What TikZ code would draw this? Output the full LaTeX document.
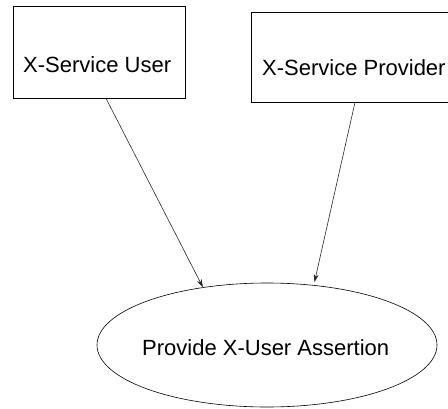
\documentclass[tikz,border=0pt]{standalone}
\usepackage{fontspec}
\setmainfont{Liberation Sans}
\usetikzlibrary{shapes.geometric,arrows.meta}
\begin{document}
\begin{tikzpicture}[x=1pt,y=-1pt,
  boxstyle/.style={draw=black,line width=0.7pt,inner sep=0pt,minimum width=#1,minimum height=92pt},
  labelstyle/.style={anchor=base west,inner sep=0pt,font=\fontsize{22}{26}\selectfont},
  conn/.style={draw=black!85,line width=0.6pt,-{Stealth[length=8pt,width=5pt]}}]
\useasboundingbox (0,0) rectangle (448,408);
\node[boxstyle=172pt] (user) at (99,52) {};
\node[boxstyle=204pt,minimum height=90pt] (prov) at (353,57) {};
\node[draw=black,line width=0.6pt,ellipse,inner sep=0pt,minimum width=340pt,minimum height=124pt] (assert) at (267,345) {};
\node[labelstyle] (tuser) at (23,72) {X-Service User};
\node[labelstyle] (tprov) at (262,75) {X-Service Provider};
\node[labelstyle] (tassert) at (142,355) {Provide X-User Assertion};
\draw[conn] ([xshift=7pt]user.south) -- (assert.138.8);
\draw[conn,shorten >=3pt] ([xshift=2pt]prov.south) -- (assert.52);
\end{tikzpicture}
\end{document}
